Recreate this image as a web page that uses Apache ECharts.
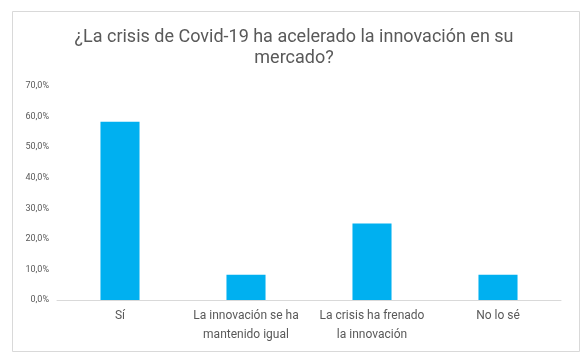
<!DOCTYPE html>
<html><head><meta charset="utf-8">
<script src="https://cdn.jsdelivr.net/npm/echarts@6/dist/echarts.min.js"></script>
<style>html,body{margin:0;padding:0;background:#fff}#c{width:588px;height:364px}</style>
</head><body><div id="c"></div>
<script>
var titleText = "¿La crisis de Covid-19 ha acelerado la innovación en su\nmercado?";
var categories = ["Sí", "La innovación se ha mantenido igual", "La crisis ha frenado la innovación", "No lo sé"];
var categoryLabels = ["Sí", "La innovación se ha\nmantenido igual", "La crisis ha frenado\nla innovación", "No lo sé"];
var values = [58.3, 8.3, 25.0, 8.3];
var yTicks = [0, 10, 20, 30, 40, 50, 60, 70];

var chart = echarts.init(document.getElementById('c'), null, {renderer: 'canvas'});
var font = "'Roboto', sans-serif";
chart.setOption({
  animation: false,
  backgroundColor: '#fff',
  graphic: [{
    type: 'rect', shape: {x: 12.5, y: 11.5, width: 567, height: 340},
    style: {fill: 'none', stroke: '#d9d9d9', lineWidth: 1}, silent: true
  }],
  title: {
    text: titleText, left: 'center', top: 22,
    textStyle: {fontFamily: font, fontSize: 18, fontWeight: 'normal', color: '#595959', lineHeight: 21}
  },
  grid: {left: 57, right: 27, top: 86, bottom: 64},
  xAxis: {
    type: 'category', data: categories,
    axisLine: {lineStyle: {color: '#d9d9d9', width: 1}},
    axisTick: {show: false},
    axisLabel: {
      interval: 0, margin: 6, color: '#595959', fontFamily: font, fontSize: 12, lineHeight: 19,
      formatter: function (v, i) { return categoryLabels[i]; }
    }
  },
  yAxis: {
    type: 'value', min: yTicks[0], max: yTicks[yTicks.length - 1], interval: 10,
    splitLine: {show: false}, axisLine: {show: false}, axisTick: {show: false},
    axisLabel: {
      margin: 8, color: '#595959', fontFamily: font, fontSize: 9,
      formatter: function (v) { return v.toFixed(1).replace('.', ',') + '%'; }
    }
  },
  series: [{
    type: 'bar', data: values, barWidth: '31%',
    itemStyle: {color: '#00b0f0'}
  }]
});
</script></body></html>
